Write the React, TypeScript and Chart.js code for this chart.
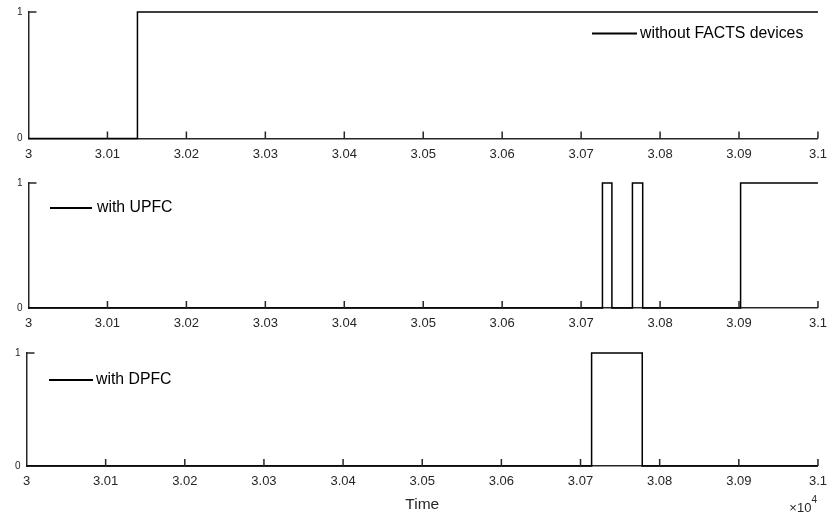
import React, { useEffect, useRef } from 'react';
import { Chart, registerables } from 'chart.js';

Chart.register(...registerables);

// ---- data ----
const X_MIN = 30000;
const X_MAX = 31000;
const X_STEP = 100;
const Y_MIN = 0;
const Y_MAX = 1;

const noFactsTimes = [30000, 30138, 31000];
const noFactsStates = [0, 1, 1];
const upfcTimes = [30000, 30727, 30739, 30765, 30778, 30902, 31000];
const upfcStates = [0, 1, 0, 1, 0, 1, 1];
const dpfcTimes = [30000, 30714, 30778, 31000];
const dpfcStates = [0, 1, 0, 0];

const legendLabels = ['without FACTS devices', 'with UPFC', 'with DPFC'];
const xAxisTitle = 'Time';
const xExponentBase = '×10';
const xExponent = '4';

// ---- layout (pixels) ----
const W = 835;
const FONT = '"Liberation Sans", Arial, sans-serif';
const AXIS_COLOR = '#262626';

type Panel = {
  times: number[];
  states: number[];
  label: string;
  top: number;
  height: number;
  area: { left: number; right: number; top: number; bottom: number };
  legend: { x1: number; x2: number; y: number; tx: number };
  last: boolean;
};

const panels: Panel[] = [
  {
    times: noFactsTimes, states: noFactsStates, label: legendLabels[0],
    top: 0, height: 170,
    area: { left: 28.5, right: 822.5, top: 10, bottom: 138.5 },
    legend: { x1: 592, x2: 637, y: 33.5, tx: 640 },
    last: false,
  },
  {
    times: upfcTimes, states: upfcStates, label: legendLabels[1],
    top: 170, height: 170,
    area: { left: 28.5, right: 821.5, top: 13, bottom: 138 },
    legend: { x1: 50, x2: 92, y: 38, tx: 97 },
    last: false,
  },
  {
    times: dpfcTimes, states: dpfcStates, label: legendLabels[2],
    top: 340, height: 177,
    area: { left: 26.5, right: 825, top: 13, bottom: 126 },
    legend: { x1: 49, x2: 93, y: 40, tx: 96 },
    last: true,
  },
];

function fmtTick(v: number): string {
  return String(Number((v / 10000).toFixed(2)));
}

function PanelChart({ p }: { p: Panel }) {
  const ref = useRef<HTMLCanvasElement | null>(null);
  useEffect(() => {
    const canvas = ref.current;
    if (!canvas) return;
    const data = p.times.map((t, i) => ({ x: t, y: p.states[i] }));
    const decor = {
      id: 'decor',
      afterDraw(chart: any) {
        const ctx = chart.ctx;
        const xs = chart.scales.x;
        const ys = chart.scales.y;
        const y0 = ys.getPixelForValue(Y_MIN);
        const y1 = ys.getPixelForValue(Y_MAX);
        const xl = xs.getPixelForValue(X_MIN);
        ctx.save();
        ctx.strokeStyle = AXIS_COLOR;
        ctx.lineWidth = 1.5;
        // inward x ticks
        for (let v = X_MIN + X_STEP; v <= X_MAX + 1e-6; v += X_STEP) {
          const px = xs.getPixelForValue(v);
          ctx.beginPath();
          ctx.moveTo(px, y0);
          ctx.lineTo(px, y0 - 7);
          ctx.stroke();
        }
        // inward y tick at 1
        ctx.beginPath();
        ctx.moveTo(xl, y1);
        ctx.lineTo(xl + 8, y1);
        ctx.stroke();
        // legend
        ctx.strokeStyle = '#000';
        ctx.lineWidth = 2;
        ctx.beginPath();
        ctx.moveTo(p.legend.x1, p.legend.y);
        ctx.lineTo(p.legend.x2, p.legend.y);
        ctx.stroke();
        ctx.fillStyle = '#000';
        ctx.font = `15.8px ${FONT}`;
        ctx.textAlign = 'left';
        ctx.textBaseline = 'middle';
        ctx.fillText(p.label, p.legend.tx, p.legend.y);
        if (p.last) {
          ctx.fillStyle = AXIS_COLOR;
          ctx.textBaseline = 'alphabetic';
          ctx.textAlign = 'right';
          ctx.font = `10px ${FONT}`;
          const right = xs.getPixelForValue(X_MAX) - 1;
          ctx.fillText(xExponent, right, 163);
          const w4 = ctx.measureText(xExponent).width;
          ctx.font = `13px ${FONT}`;
          ctx.fillText(xExponentBase, right - w4, 172);
        }
        ctx.restore();
      },
    };
    const chart = new Chart(canvas, {
      type: 'line',
      data: {
        datasets: [
          {
            data,
            borderColor: '#000',
            borderWidth: 1.5,
            pointRadius: 0,
            stepped: true,
            fill: false,
            clip: false as any,
          },
        ],
      },
      options: {
        animation: false,
        responsive: false,
        maintainAspectRatio: false,
        layout: {
          padding: { left: 0, top: p.area.top, right: W - p.area.right, bottom: 0 },
        },
        plugins: { legend: { display: false }, tooltip: { enabled: false } },
        scales: {
          x: {
            type: 'linear',
            position: 'bottom',
            min: X_MIN,
            max: X_MAX,
            grid: { display: false, drawTicks: false },
            border: { display: true, color: AXIS_COLOR, width: 1.5 },
            ticks: {
              stepSize: X_STEP,
              autoSkip: false,
              maxRotation: 0,
              minRotation: 0,
              padding: 8,
              color: AXIS_COLOR,
              font: { size: 13, family: FONT },
              callback: (v: any) => fmtTick(Number(v)),
            },
            title: p.last
              ? {
                  display: true,
                  text: xAxisTitle,
                  color: AXIS_COLOR,
                  font: { size: 15.5, family: FONT },
                  padding: { top: 0, bottom: 3 },
                }
              : { display: false },
            afterFit: (s: any) => {
              s.height = p.height - p.area.bottom;
            },
          },
          y: {
            type: 'linear',
            min: Y_MIN,
            max: Y_MAX,
            grid: { display: false, drawTicks: false },
            border: { display: true, color: AXIS_COLOR, width: 1.5 },
            ticks: {
              stepSize: 1,
              padding: 6,
              color: AXIS_COLOR,
              font: { size: 10, family: FONT },
            },
            afterFit: (s: any) => {
              s.width = p.area.left;
            },
          },
        },
      },
      plugins: [decor],
    });
    return () => chart.destroy();
  }, [p]);
  return (
    <canvas
      ref={ref}
      width={W}
      height={p.height}
      style={{ position: 'absolute', left: 0, top: p.top, width: W, height: p.height }}
    />
  );
}

export default function App() {
  return (
    <div
      style={{
        position: 'fixed',
        left: 0,
        top: 0,
        width: W,
        height: 517,
        background: '#fff',
        overflow: 'hidden',
      }}
    >
      {panels.map((p, i) => (
        <PanelChart key={i} p={p} />
      ))}
    </div>
  );
}
